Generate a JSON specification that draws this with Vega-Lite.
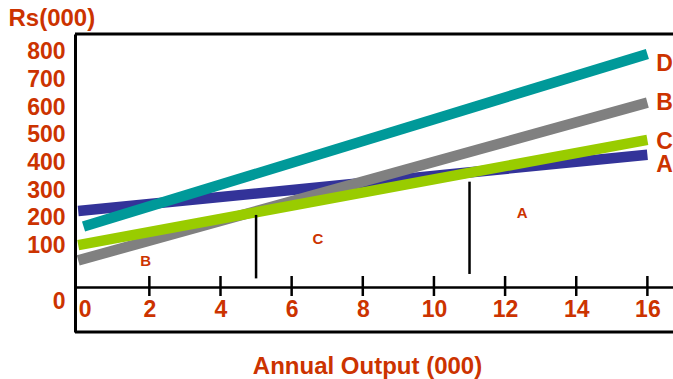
{
  "$schema": "https://vega.github.io/schema/vega-lite/v6.json",
  "width": 598,
  "height": 298,
  "autosize": {"type": "none"},
  "padding": {"left": 75, "top": 34, "right": 0, "bottom": 47},
  "background": "white",
  "config": {
    "view": {"stroke": null},
    "font": "Liberation Sans",
    "text": {"font": "Liberation Sans"},
    "axis": {"labelOverlap": false, "labelSeparation": 0, "grid": false}
  },
  "datasets": {
    "lines": [
      {"series": "A", "x": 0, "y": 225},
      {"series": "A", "x": 16, "y": 428},
      {"series": "B", "x": 0, "y": 47},
      {"series": "B", "x": 16, "y": 616},
      {"series": "C", "x": 0, "y": 102},
      {"series": "C", "x": 16, "y": 482},
      {"series": "D", "x": 0.15, "y": 169},
      {"series": "D", "x": 16, "y": 792}
    ],
    "ticks": [
      {"x": 2}, {"x": 4}, {"x": 6}, {"x": 8}, {"x": 10}, {"x": 12}, {"x": 14}, {"x": 16}
    ],
    "dividers": [
      {"x": 5, "y": 211, "y2": -18},
      {"x": 11, "y": 331, "y2": -2}
    ],
    "endLabels": [
      {"label": "D", "x": 16.25, "y": 754},
      {"label": "B", "x": 16.25, "y": 614},
      {"label": "C", "x": 16.25, "y": 475},
      {"label": "A", "x": 16.25, "y": 390}
    ],
    "regionLabels": [
      {"label": "A", "x": 12.48, "y": 219},
      {"label": "C", "x": 6.74, "y": 124},
      {"label": "B", "x": 1.9, "y": 46}
    ]
  },
  "layer": [
    {
      "data": {"name": "lines"},
      "mark": {"type": "line", "strokeWidth": 10.5, "strokeCap": "butt"},
      "encoding": {
        "x": {
          "field": "x",
          "type": "quantitative",
          "scale": {"domain": [-0.09, 16.72], "nice": false, "zero": false},
          "axis": {
            "orient": "bottom",
            "offset": -45,
            "values": [0, 2, 4, 6, 8, 10, 12, 14, 16],
            "format": "d",
            "grid": false,
            "ticks": false,
            "tickSize": 0,
            "domainColor": "black",
            "domainWidth": 2.5,
            "labelFont": "Liberation Sans",
            "labelFontSize": 23,
            "labelFontWeight": "bold",
            "labelColor": "#CC3300",
            "labelPadding": 11,
            "labelFlush": 6,
            "labelOverlap": false,
            "title": "Annual Output (000)",
            "titleFont": "Liberation Sans",
            "titleFontSize": 24,
            "titleFontWeight": "bold",
            "titleColor": "#CC3300",
            "titleX": 292,
            "titleY": 79,
            "titleAlign": "center",
            "titleBaseline": "middle"
          }
        },
        "y": {
          "field": "y",
          "type": "quantitative",
          "scale": {"domain": [-211.4, 863.8], "nice": false, "zero": false},
          "axis": {
            "values": [-100, 100, 200, 300, 400, 500, 600, 700, 800],
            "tickCount": 30,
            "format": "d",
            "labelExpr": "datum.value < 0 ? '0' : datum.label",
            "grid": false,
            "ticks": false,
            "tickSize": 0,
            "domainColor": "black",
            "domainWidth": 3,
            "labelFont": "Liberation Sans",
            "labelFontSize": 23,
            "labelFontWeight": "bold",
            "labelColor": "#CC3300",
            "labelPadding": 10,
            "labelOverlap": false,
            "labelSeparation": 0,
            "title": "Rs(000)",
            "titleFont": "Liberation Sans",
            "titleFontSize": 24,
            "titleFontWeight": "bold",
            "titleColor": "#CC3300",
            "titleAngle": 0,
            "titleX": -67,
            "titleY": -16,
            "titleAlign": "left",
            "titleBaseline": "middle"
          }
        },
        "color": {
          "field": "series",
          "type": "nominal",
          "scale": {"domain": ["A", "B", "C", "D"], "range": ["#333399", "#808080", "#99CC00", "#009999"]},
          "legend": null
        }
      }
    },
    {
      "data": {"name": "ticks"},
      "mark": {"type": "tick", "orient": "vertical", "size": 20, "thickness": 2.5, "color": "black", "opacity": 1},
      "encoding": {
        "x": {"field": "x", "type": "quantitative"},
        "y": {"datum": -45.5, "type": "quantitative"}
      }
    },
    {
      "data": {"name": "dividers"},
      "mark": {"type": "rule", "strokeWidth": 2.5, "color": "black"},
      "encoding": {
        "x": {"field": "x", "type": "quantitative"},
        "y": {"field": "y", "type": "quantitative"},
        "y2": {"field": "y2"}
      }
    },
    {
      "data": {"values": [{}]},
      "mark": {"type": "rule", "strokeWidth": 3, "color": "black"},
      "encoding": {
        "x": {"datum": -0.09, "type": "quantitative"},
        "x2": {"datum": 16.72},
        "y": {"datum": 863.8, "type": "quantitative"}
      }
    },
    {
      "data": {"values": [{}]},
      "mark": {"type": "rule", "strokeWidth": 3, "color": "black"},
      "encoding": {
        "x": {"datum": -0.09, "type": "quantitative"},
        "x2": {"datum": 16.72},
        "y": {"datum": -211.4, "type": "quantitative"}
      }
    },
    {
      "data": {"name": "endLabels"},
      "mark": {"type": "text", "font": "Liberation Sans", "fontSize": 23, "fontWeight": "bold", "color": "#CC3300", "align": "left", "baseline": "middle"},
      "encoding": {
        "x": {"field": "x", "type": "quantitative"},
        "y": {"field": "y", "type": "quantitative"},
        "text": {"field": "label"}
      }
    },
    {
      "data": {"name": "regionLabels"},
      "mark": {"type": "text", "font": "Liberation Sans", "fontSize": 15, "fontWeight": "bold", "color": "#CC3300", "align": "center", "baseline": "middle"},
      "encoding": {
        "x": {"field": "x", "type": "quantitative"},
        "y": {"field": "y", "type": "quantitative"},
        "text": {"field": "label"}
      }
    }
  ]
}
